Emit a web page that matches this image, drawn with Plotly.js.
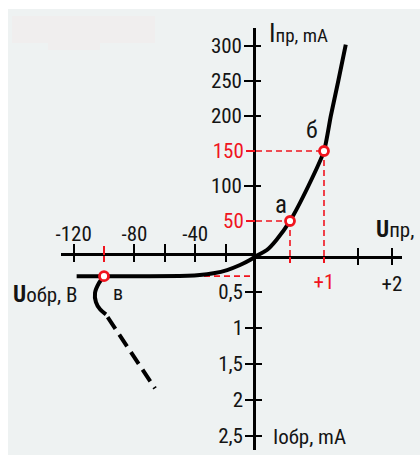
<!DOCTYPE html>
<html>
<head>
<meta charset="utf-8">
<script src="https://cdn.plot.ly/plotly-3.0.1.min.js"></script>
<style>html,body{margin:0;padding:0;background:#fff;}#chart{width:420px;height:455px;}</style>
</head>
<body>
<div id="chart"></div>
<script>
// ---- data ----
// forward branch (U in V, I in mA)
const fwdU = [0, 0.16, 0.3, 0.5, 0.77, 1.0, 1.1, 1.21, 1.32];
const fwdI = [0, 8.6, 23, 50, 100, 150, 200, 250, 302];
// reverse branch (U in V, I in mA, drawn downward)
const revU = [-118, -100, -70, -45, -37, -28, -19, -10.5, -4, 0];
const revI = [0.28, 0.28, 0.28, 0.275, 0.265, 0.24, 0.195, 0.125, 0.056, 0];
// breakdown hook (solid) and its dashed continuation
const hookU = [-100, -103.3, -105.9, -105.3, -102.6, -98.7];
const hookI = [0.28, 0.375, 0.51, 0.64, 0.74, 0.81];
const dashU = [-97.6, -66.4];
const dashI = [0.85, 1.84];
// marked points
const fwdPtU = [0.5, 1.0];
const fwdPtI = [50, 150];
const fwdPtLbl = ['а', 'б'];
const revPtU = [-100];
const revPtI = [0.28];
const revPtLbl = ['в'];
// ticks
const revUTicks = [-120, -80, -60, -40, -20];
const revUText = ['-120', '-80', '', '-40', ''];
const fwdUTicks = [1.5, 2];
const fwdUText = ['', '+2'];
const fwdURed = [0.5, 1];
const fwdURedText = ['', '+1'];
const fwdITicks = [100, 200, 250, 300];
const fwdIRed = [50, 150];
const revITicks = [0.5, 1, 1.5, 2, 2.5];
const revIText = ['0,5', '1', '1,5', '2', '2,5'];

const FONT = "'Roboto Condensed', 'Liberation Sans Narrow', 'Arial Narrow', 'Liberation Sans', Arial, sans-serif";
const FS = 21;
const INK = '#141414';
const RED = '#f0141e';
const W = 420, H = 455;
const px = v => v / W;           // helpers for layout (paper) positions
const py = v => 1 - v / H;

const redDash = {color: RED, width: 1.6, dash: '6px,4px'};
const traces = [
  // red guide lines
  {x: [0, fwdPtU[0]], y: [fwdPtI[0], fwdPtI[0]], xaxis: 'x2', yaxis: 'y', mode: 'lines', line: redDash},
  {x: [fwdPtU[0], fwdPtU[0]], y: [0, fwdPtI[0]], xaxis: 'x2', yaxis: 'y', mode: 'lines', line: redDash},
  {x: [0, fwdPtU[1]], y: [fwdPtI[1], fwdPtI[1]], xaxis: 'x2', yaxis: 'y', mode: 'lines', line: redDash},
  {x: [fwdPtU[1], fwdPtU[1]], y: [0, fwdPtI[1]], xaxis: 'x2', yaxis: 'y', mode: 'lines', line: redDash},
  {x: [revPtU[0], 0], y: [revPtI[0], revPtI[0]], xaxis: 'x', yaxis: 'y2', mode: 'lines', line: redDash},
  // curves
  {x: fwdU, y: fwdI, xaxis: 'x2', yaxis: 'y', mode: 'lines', line: {color: '#000', width: 4, shape: 'spline', smoothing: 0.6}},
  {x: revU, y: revI, xaxis: 'x', yaxis: 'y2', mode: 'lines', line: {color: '#000', width: 4, shape: 'spline', smoothing: 0.6}},
  {x: hookU, y: hookI, xaxis: 'x', yaxis: 'y2', mode: 'lines', line: {color: '#000', width: 4, shape: 'spline', smoothing: 0.8}},
  {x: dashU, y: dashI, xaxis: 'x', yaxis: 'y2', mode: 'lines', line: {color: '#000', width: 4, dash: '14px,7px'}},
  // points
  {x: fwdPtU, y: fwdPtI, xaxis: 'x2', yaxis: 'y', mode: 'markers', cliponaxis: false,
   marker: {size: 9, color: '#fff', line: {color: RED, width: 2.8}}},
  {x: revPtU, y: revPtI, xaxis: 'x', yaxis: 'y2', mode: 'markers', cliponaxis: false,
   marker: {size: 9, color: '#fff', line: {color: RED, width: 2.8}}}
];
// invisible anchors so that every overlay axis gets its subplot drawn
[['x3', 'y2'], ['x4', 'y2'], ['x5', 'y2'], ['x6', 'y'], ['x7', 'y'], ['x2', 'y3'], ['x2', 'y4'], ['x', 'y5']]
  .forEach(([xa, ya]) => traces.push({x: [null], y: [null], xaxis: xa, yaxis: ya, mode: 'markers',
    marker: {opacity: 0}, hoverinfo: 'skip', showlegend: false}));

const tf = {family: FONT, size: FS, color: INK};
const tfRed = {family: FONT, size: FS, color: RED};
const base = {showgrid: false, zeroline: false, fixedrange: true};
const xDomL = [px(61), px(256)], xDomR = [px(256), px(402)];
const yDomT = [py(256), py(28)], yDomB = [py(450), py(256)];
const xRangeL = [-(256 - 61) / 1.52, 0];
const xRangeR = [0, (402 - 256) / 68];
const yRangeT = [0, (256 - 28) / 0.7];
const yRangeB = [(450 - 256) / 72, 0];

const layout = {
  width: W, height: H,
  margin: {l: 0, r: 0, t: 0, b: 0},
  paper_bgcolor: '#ffffff', plot_bgcolor: 'rgba(0,0,0,0)',
  showlegend: false,
  font: tf,
  // reverse voltage axis (labels above)
  xaxis: Object.assign({}, base, {domain: xDomL, range: xRangeL, anchor: 'y2', side: 'top',
    showline: true, linecolor: '#000', linewidth: 2.8,
    tickmode: 'array', tickvals: revUTicks, ticktext: revUText, ticklabelstandoff: -5,
    ticks: 'outside', ticklen: 9, tickwidth: 2, tickcolor: '#000', tickfont: tf}),
  xaxis3: Object.assign({}, base, {overlaying: 'x', range: xRangeL, anchor: 'y2', side: 'top',
    showline: false, tickmode: 'array', tickvals: revUTicks, showticklabels: false,
    ticks: 'inside', ticklen: 6, tickwidth: 2, tickcolor: '#000'}),
  xaxis4: Object.assign({}, base, {overlaying: 'x', range: xRangeL, anchor: 'y2', side: 'top',
    showline: false, tickmode: 'array', tickvals: revPtU, showticklabels: false,
    ticks: 'outside', ticklen: 9, tickwidth: 1.6, tickcolor: RED}),
  xaxis5: Object.assign({}, base, {overlaying: 'x', range: xRangeL, anchor: 'y2', side: 'top',
    showline: false, tickmode: 'array', tickvals: revPtU, showticklabels: false,
    ticks: 'inside', ticklen: 6, tickwidth: 1.6, tickcolor: RED}),
  // forward voltage axis (labels below)
  xaxis2: Object.assign({}, base, {domain: xDomR, range: xRangeR, anchor: 'y', side: 'bottom',
    showline: true, linecolor: '#000', linewidth: 2.8,
    tickmode: 'array', tickvals: fwdUTicks, ticktext: fwdUText, ticklabelstandoff: 1,
    ticks: 'outside', ticklen: 6, tickwidth: 2, tickcolor: '#000', tickfont: tf}),
  xaxis6: Object.assign({}, base, {overlaying: 'x2', range: xRangeR, anchor: 'y', side: 'bottom',
    showline: false, tickmode: 'array', tickvals: fwdUTicks, showticklabels: false,
    ticks: 'inside', ticklen: 8, tickwidth: 2, tickcolor: '#000'}),
  xaxis7: Object.assign({}, base, {overlaying: 'x2', range: xRangeR, anchor: 'y', side: 'bottom',
    showline: false, tickmode: 'array', tickvals: fwdURed, ticktext: fwdURedText, ticklabelstandoff: 1,
    ticks: 'outside', ticklen: 6, tickwidth: 1.6, tickcolor: RED, tickfont: tfRed}),
  // forward current axis
  yaxis: Object.assign({}, base, {domain: yDomT, range: yRangeT, anchor: 'x2', side: 'left',
    showline: true, linecolor: '#000', linewidth: 2.8,
    tickmode: 'array', tickvals: fwdITicks, ticklabelstandoff: -2,
    ticks: 'outside', ticklen: 9, tickwidth: 2, tickcolor: '#000', tickfont: tf}),
  yaxis3: Object.assign({}, base, {overlaying: 'y', range: yRangeT, anchor: 'x2', side: 'left',
    showline: false, tickmode: 'array', tickvals: fwdITicks, showticklabels: false,
    ticks: 'inside', ticklen: 5, tickwidth: 2, tickcolor: '#000'}),
  yaxis4: Object.assign({}, base, {overlaying: 'y', range: yRangeT, anchor: 'x2', side: 'left',
    showline: false, tickmode: 'array', tickvals: fwdIRed, ticklabelstandoff: -2,
    ticks: 'outside', ticklen: 9, tickwidth: 1.6, tickcolor: RED, tickfont: tfRed}),
  // reverse current axis (downward)
  yaxis2: Object.assign({}, base, {domain: yDomB, range: yRangeB, anchor: 'x2', side: 'left',
    showline: true, linecolor: '#000', linewidth: 2.8,
    tickmode: 'array', tickvals: revITicks, ticktext: revIText, ticklabelstandoff: -2,
    ticks: 'outside', ticklen: 8, tickwidth: 2, tickcolor: '#000', tickfont: tf}),
  yaxis5: Object.assign({}, base, {overlaying: 'y2', range: yRangeB, anchor: 'x2', side: 'left',
    showline: false, tickmode: 'array', tickvals: revITicks, showticklabels: false,
    ticks: 'inside', ticklen: 6, tickwidth: 2, tickcolor: '#000'}),
  shapes: [
    {type: 'rect', xref: 'paper', yref: 'paper', x0: px(8), x1: 1, y0: 0, y1: py(9),
     fillcolor: '#eef2f2', line: {width: 0}, layer: 'below'},
    {type: 'rect', xref: 'paper', yref: 'paper', x0: px(12), x1: px(155), y0: py(43), y1: py(16),
     fillcolor: '#f0eeee', line: {width: 0}, layer: 'below'},
    {type: 'rect', xref: 'paper', yref: 'paper', x0: px(48), x1: px(100), y0: py(50), y1: py(40),
     fillcolor: '#f0eeee', line: {width: 0}, layer: 'below'}
  ],
  annotations: [
    {xref: 'paper', yref: 'paper', x: px(267), y: py(33), xanchor: 'left', yanchor: 'middle', showarrow: false,
     text: '<span style="font-size:26px">I</span>пр, mA', font: {family: FONT, size: 19, color: INK}},
    {xref: 'paper', yref: 'paper', x: px(374), y: py(229), xanchor: 'left', yanchor: 'middle', showarrow: false,
     text: '<b><span style="font-size:23px">U</span></b>пр, В', font: {family: FONT, size: 21, color: INK}},
    {xref: 'paper', yref: 'paper', x: px(11), y: py(294), xanchor: 'left', yanchor: 'middle', showarrow: false,
     text: '<b><span style="font-size:23px">U</span></b>обр, В', font: {family: FONT, size: 21, color: INK}},
    {xref: 'paper', yref: 'paper', x: px(271), y: py(437), xanchor: 'left', yanchor: 'middle', showarrow: false,
     text: 'Iобр, mA', font: {family: FONT, size: 21, color: INK}},
    {xref: 'x2', yref: 'y', x: fwdPtU[0], y: fwdPtI[0], xshift: -9, yshift: 17, showarrow: false,
     text: fwdPtLbl[0], font: {family: FONT, size: 25, color: INK}},
    {xref: 'x2', yref: 'y', x: fwdPtU[1], y: fwdPtI[1], xshift: -12, yshift: 21, showarrow: false,
     text: fwdPtLbl[1], font: {family: FONT, size: 24, color: INK}},
    {xref: 'x', yref: 'y2', x: revPtU[0], y: revPtI[0], xshift: 14, yshift: -17, showarrow: false,
     text: revPtLbl[0], font: {family: FONT, size: 20, color: INK}}
  ]
};

Plotly.newPlot('chart', traces, layout, {staticPlot: true, displayModeBar: false});
</script>
</body>
</html>
